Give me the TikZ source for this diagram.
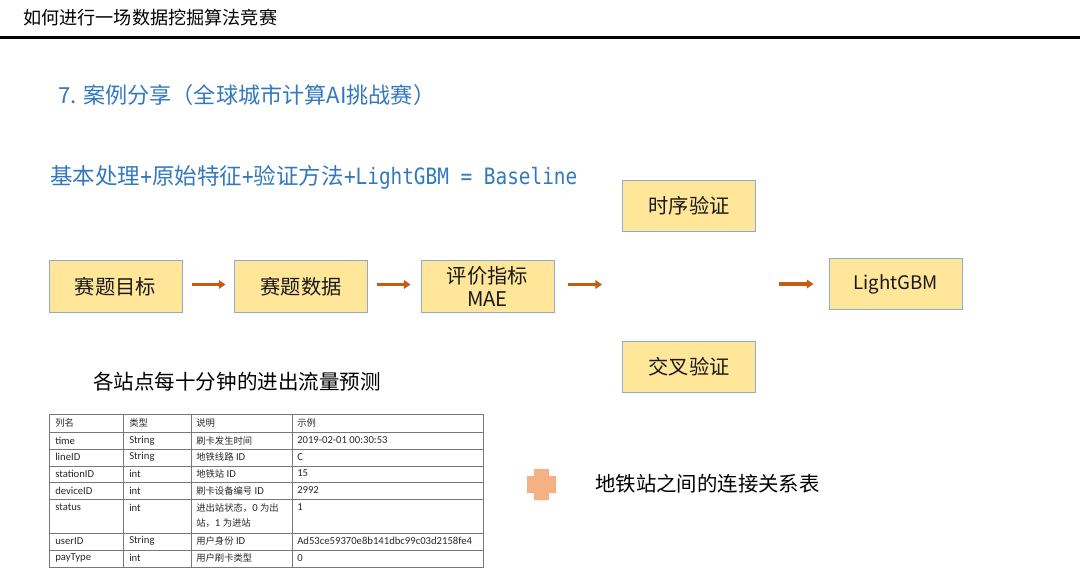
\documentclass[tikz,border=0pt]{standalone}
\usepackage{fontspec}
\setmainfont{Noto Sans CJK SC}
\newfontfamily\cjk{Noto Sans CJK SC}
\newfontfamily\tabfont{Carlito}
\newfontfamily\narrowmono[FakeStretch=0.86]{DejaVu Sans Mono}
\usetikzlibrary{arrows.meta}
\newcommand{\zh}[1]{{\cjk\fontsize{7}{9}\selectfont #1}}

\begin{document}
\begin{tikzpicture}[x=0.75pt,y=0.75pt,yscale=-1,xscale=1,
  stagebox/.style={draw={rgb, 255:red, 143; green, 170; blue, 210 }, fill={rgb, 255:red, 255; green, 230; blue, 153 }, line width=0.75pt, minimum width=99.75pt, minimum height=38.25pt, inner sep=0pt, align=center, font=\fontsize{15.2}{17.25}\selectfont, text={rgb, 255:red, 25; green, 25; blue, 25 }},
  flow/.style={draw={rgb, 255:red, 197; green, 90; blue, 17 }, line width=2.6pt, -{Triangle[length=5pt,width=6.5pt]}},
  cell/.style={anchor=west, inner sep=0pt, align=left, font=\tabfont\fontsize{8}{11.25}\selectfont, text={rgb, 255:red, 40; green, 40; blue, 40 }},
  tabline/.style={draw={rgb, 255:red, 120; green, 120; blue, 120 }, line width=0.75pt},
  bluetext/.style={anchor=west, inner sep=0pt, text={rgb, 255:red, 50; green, 120; blue, 192 }}]
\path[use as bounding box] (0,0) rectangle (1080,573);

%Header
\node[anchor=west, inner sep=0pt, font=\fontsize{13.6}{16}\selectfont] (header) at (23,18) {如何进行一场数据挖掘算法竞赛};
\draw[line width=2.25pt] (0,38) -- (1080,38);

%Titles
\node[bluetext, font=\fontsize{16.6}{20}\selectfont] (title) at (58,95) {7. 案例分享（全球城市计算AI挑战赛）};
\node[bluetext, font=\fontsize{16.9}{20}\selectfont] (baseline) at (50,177) {基本处理{\narrowmono +}原始特征{\narrowmono +}验证方法{\narrowmono +LightGBM = Baseline}};

%Shape: Rectangle
\node[stagebox] (target) at (115.5,286.5) {赛题目标};
\node[stagebox] (data) at (301,286.5) {赛题数据};
\node[stagebox] (metric) at (487.5,286.5) {评价指标\\MAE};
\node[stagebox] (tsval) at (689,206) {时序验证};
\node[stagebox] (cvval) at (689,366.5) {交叉验证};
\node[stagebox, font=\fontsize{14}{17}\selectfont] (gbm) at (895.5,284) {LightGBM};
\coordinate (split) at (602,284.5);
\coordinate (merge) at (779,284);

%Straight Lines
\draw[flow, shorten <=6.75pt, shorten >=6.4pt] (target.east |- split) -- (data.west |- split);
\draw[flow, shorten <=7pt, shorten >=7.5pt] (data.east |- split) -- (metric.west |- split);
\draw[flow, shorten <=9.75pt] (metric.east |- split) -- (split);
\draw[flow, shorten >=11.25pt] (merge) -- (gbm.west |- merge);

%Text Node
\node[anchor=west, inner sep=0pt, font=\fontsize{15.4}{18}\selectfont] (task) at (93,382) {各站点每十分钟的进出流量预测};

%Table
\draw[tabline] (49,414) rectangle (483,567);
\draw[tabline] (49,432) -- (483,432) (49,449) -- (483,449) (49,466) -- (483,466) (49,482) -- (483,482) (49,499) -- (483,499) (49,533) -- (483,533) (49,550) -- (483,550);
\draw[tabline] (123,414) -- (123,567) (191,414) -- (191,567) (292,414) -- (292,567);

\node[cell] (h1) at (55,423) {\zh{列名}};
\node[cell] (h2) at (129,423) {\zh{类型}};
\node[cell] (h3) at (196,423) {\zh{说明}};
\node[cell] (h4) at (297,423) {\zh{示例}};

\node[cell] (time1) at (55,440.5) {time};
\node[cell] (time2) at (129,440.5) {String};
\node[cell] (time3) at (196,440.5) {\zh{刷卡发生时间}};
\node[cell] (time4) at (297,440.5) {2019-02-01 00:30:53};

\node[cell] (line1) at (55,457) {lineID};
\node[cell] (line2) at (129,457) {String};
\node[cell] (line3) at (196,457) {\zh{地铁线路} ID};
\node[cell] (line4) at (297,457) {C};

\node[cell] (station1) at (55,473.5) {stationID};
\node[cell] (station2) at (129,473.5) {int};
\node[cell] (station3) at (196,473.5) {\zh{地铁站} ID};
\node[cell] (station4) at (297,473.5) {15};

\node[cell] (device1) at (55,490.5) {deviceID};
\node[cell] (device2) at (129,490.5) {int};
\node[cell] (device3) at (196,490.5) {\zh{刷卡设备编号} ID};
\node[cell] (device4) at (297,490.5) {2992};

\node[cell] (status1) at (55,507.5) {status};
\node[cell] (status2) at (129,507.5) {int};
\node[cell] (status3) at (196,515.5) {\zh{进出站状态，}0 \zh{为出}\\\zh{站，}1 \zh{为进站}};
\node[cell] (status4) at (297,507.5) {1};

\node[cell] (user1) at (55,541) {userID};
\node[cell] (user2) at (129,541) {String};
\node[cell] (user3) at (196,541) {\zh{用户身份} ID};
\node[cell] (user4) at (297,541) {Ad53ce59370e8b141dbc99c03d2158fe4};

\node[cell] (pay1) at (55,558) {payType};
\node[cell] (pay2) at (129,558) {int};
\node[cell] (pay3) at (196,558) {\zh{用户刷卡类型}};
\node[cell] (pay4) at (297,558) {0};

%Shape: Cross
\draw[draw=none, fill={rgb, 255:red, 244; green, 177; blue, 131 }] (534,469) -- (549,469) -- (549,476) -- (556,476) -- (556,493) -- (549,493) -- (549,500) -- (534,500) -- (534,493) -- (527,493) -- (527,476) -- (534,476) -- cycle;
\node[anchor=west, inner sep=0pt, font=\fontsize{15.3}{18}\selectfont] (linktab) at (595,484) {地铁站之间的连接关系表};

\end{tikzpicture}
\end{document}
